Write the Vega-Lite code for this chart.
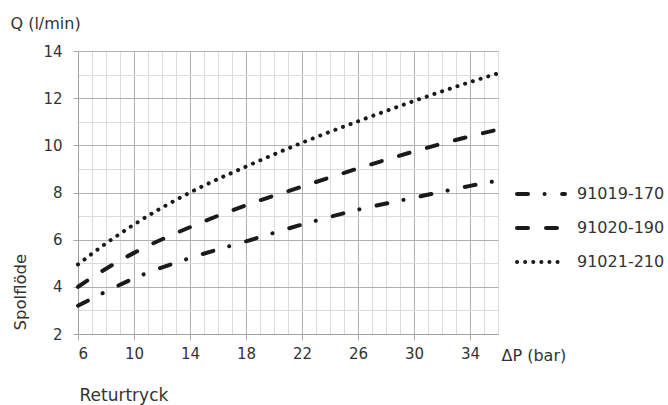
{
  "$schema": "https://vega.github.io/schema/vega-lite/v6.json",
  "width": 420,
  "height": 283,
  "autosize": {"type": "none"},
  "padding": {"left": 78, "top": 51, "right": 170, "bottom": 71},
  "config": {
    "view": {"stroke": null},
    "font": "DejaVu Sans",
    "axis": {"labelFont": "DejaVu Sans", "titleFont": "DejaVu Sans", "labelColor": "#333", "titleColor": "#333", "titleFontWeight": "normal", "zindex": 0}
  },
  "data": {
    "values": [
      {"s": "91019-170", "p": 6, "q": 3.2},
      {"s": "91019-170", "p": 8, "q": 3.8},
      {"s": "91019-170", "p": 10, "q": 4.36},
      {"s": "91019-170", "p": 14, "q": 5.22},
      {"s": "91019-170", "p": 18, "q": 5.93},
      {"s": "91019-170", "p": 22, "q": 6.64},
      {"s": "91019-170", "p": 26, "q": 7.27},
      {"s": "91019-170", "p": 30, "q": 7.78},
      {"s": "91019-170", "p": 34, "q": 8.28},
      {"s": "91019-170", "p": 36, "q": 8.5},
      {"s": "91020-190", "p": 6, "q": 4.0},
      {"s": "91020-190", "p": 8, "q": 4.77},
      {"s": "91020-190", "p": 10, "q": 5.44},
      {"s": "91020-190", "p": 14, "q": 6.53},
      {"s": "91020-190", "p": 18, "q": 7.46},
      {"s": "91020-190", "p": 22, "q": 8.25},
      {"s": "91020-190", "p": 26, "q": 9.02},
      {"s": "91020-190", "p": 30, "q": 9.74},
      {"s": "91020-190", "p": 34, "q": 10.38},
      {"s": "91020-190", "p": 36, "q": 10.67},
      {"s": "91021-210", "p": 6, "q": 4.95},
      {"s": "91021-210", "p": 8, "q": 5.84},
      {"s": "91021-210", "p": 10, "q": 6.64},
      {"s": "91021-210", "p": 14, "q": 8.0},
      {"s": "91021-210", "p": 18, "q": 9.1},
      {"s": "91021-210", "p": 22, "q": 10.11},
      {"s": "91021-210", "p": 26, "q": 11.02},
      {"s": "91021-210", "p": 30, "q": 11.88},
      {"s": "91021-210", "p": 34, "q": 12.68},
      {"s": "91021-210", "p": 36, "q": 13.05}
    ]
  },
  "resolve": {"axis": {"x": "independent", "y": "independent"}},
  "layer": [
    {
      "mark": {"type": "point", "opacity": 0},
      "encoding": {
        "x": {"field": "p", "type": "quantitative", "scale": {"domain": [6, 36], "nice": false, "zero": false},
          "axis": {"orient": "bottom", "values": [6,7,8,9,10,11,12,13,14,15,16,17,18,19,20,21,22,23,24,25,26,27,28,29,30,31,32,33,34,35,36],
            "grid": true, "gridColor": "#dcdcdc", "gridWidth": 1, "labels": false, "ticks": false, "domain": false,
            "title": "Returtryck", "titleFontSize": 17, "titleX": 1, "titleY": 66, "titleAlign": "left", "titleBaseline": "alphabetic", "titleAngle": 0}},
        "y": {"field": "q", "type": "quantitative", "scale": {"domain": [2, 14], "nice": false, "zero": false},
          "axis": {"orient": "left", "values": [2,3,4,5,6,7,8,9,10,11,12,13,14],
            "grid": true, "gridColor": "#dcdcdc", "gridWidth": 1, "labels": false, "ticks": false, "domain": false,
            "title": "Spolflöde", "titleFontSize": 16.5, "titleX": -53, "titleY": 279, "titleAlign": "left", "titleBaseline": "alphabetic", "titleAngle": 270}}
      }
    },
    {
      "mark": {"type": "line", "color": "#1a1a1a", "strokeWidth": 4, "strokeCap": "round", "interpolate": "monotone"},
      "encoding": {
        "x": {"field": "p", "type": "quantitative",
          "axis": {"orient": "bottom", "values": [6,10,14,18,22,26,30,34],
            "grid": true, "gridColor": "#b0b0b0", "gridWidth": 1, "tickColor": "#a8a8a8", "tickSize": 6, "domainColor": "#a0a0a0",
            "labelFontSize": 15, "labelPadding": 6,
            "title": "ΔP (bar)", "titleFontSize": 16, "titleX": 423, "titleY": 26, "titleAlign": "left", "titleBaseline": "alphabetic", "titleAngle": 0}},
        "y": {"field": "q", "type": "quantitative",
          "axis": {"orient": "left", "values": [2,4,6,8,10,12,14],
            "grid": true, "gridColor": "#b0b0b0", "gridWidth": 1, "tickColor": "#a8a8a8", "tickSize": 5, "domainColor": "#a0a0a0",
            "labelFontSize": 15, "labelPadding": 11,
            "title": "Q (l/min)", "titleFontSize": 16, "titleX": -68, "titleY": -23, "titleAlign": "left", "titleBaseline": "alphabetic", "titleAngle": 0}},
        "strokeDash": {"field": "s", "type": "nominal",
          "scale": {"domain": ["91019-170", "91020-190", "91021-210"], "range": [[11, 16.5, 0.1, 17.5], [11, 18], [0.1, 8]]},
          "legend": {"orient": "none", "legendX": 437, "legendY": 117, "title": null, "symbolType": "stroke", "symbolSize": 2304,
            "symbolStrokeWidth": 4, "symbolStrokeColor": "#1a1a1a", "rowPadding": -16, "labelOffset": 10, "labelFontSize": 16,
            "labelFont": "DejaVu Sans", "labelColor": "#333", "padding": 0,
            "encode": {"symbols": {"update": {"strokeCap": {"value": "round"}}}}}}
      }
    }
  ]
}
